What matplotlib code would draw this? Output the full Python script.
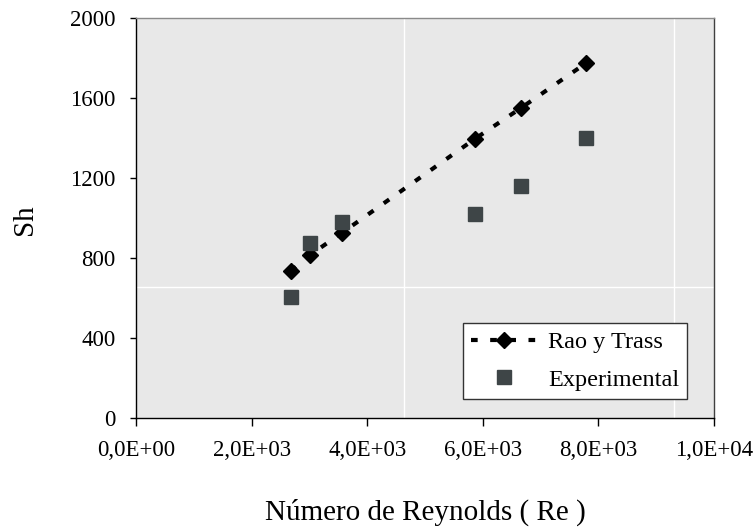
import matplotlib
matplotlib.use("Agg")
import matplotlib.pyplot as plt
from matplotlib.ticker import FixedLocator, FixedFormatter

# Data
reynolds = [2680, 3010, 3560, 5860, 6660, 7790]
sh_rao_trass = [735, 815, 925, 1395, 1550, 1775]
sh_experimental = [605, 875, 980, 1020, 1160, 1400]

x_ticks = [0, 2000, 4000, 6000, 8000, 10000]
x_tick_labels = ["0,0E+00", "2,0E+03", "4,0E+03", "6,0E+03", "8,0E+03", "1,0E+04"]
y_ticks = [0, 400, 800, 1200, 1600, 2000]
y_tick_labels = ["0", "400", "800", "1200", "1600", "2000"]

plt.rcParams['font.family'] = ['Liberation Serif', 'DejaVu Serif']
FS_TICK = 16.5
FS_LEG = 17.5
FS_LAB = 21

fig = plt.figure(figsize=(7.53, 5.31), dpi=100)
ax = fig.add_axes([136/753, 113/531, 578/753, 400/531])
ax.set_facecolor('#e8e8e8')

# faint texture-tile seams of the original background
for fx in [268/578, 538/578]:
    ax.plot([fx, fx], [0, 1], transform=ax.transAxes, color='white', lw=1.0, zorder=0.5)
ax.plot([0, 1], [131/400, 131/400], transform=ax.transAxes, color='white', lw=1.0, zorder=0.5)

ax.plot(reynolds, sh_rao_trass, color='black', lw=3.0, linestyle=(0, (1.6, 3.0)),
        marker='D', markersize=7.8, markerfacecolor='black', markeredgecolor='black',
        label='Rao y Trass', zorder=3)
ax.plot(reynolds, sh_experimental, linestyle='none', marker='s', markersize=9.5,
        markerfacecolor='#3e4547', markeredgecolor='#3e4547', label='Experimental', zorder=3)

ax.set_xlim(0, 10000)
ax.set_ylim(0, 2000)
ax.xaxis.set_major_locator(FixedLocator(x_ticks))
ax.xaxis.set_major_formatter(FixedFormatter(x_tick_labels))
ax.yaxis.set_major_locator(FixedLocator(y_ticks))
ax.yaxis.set_major_formatter(FixedFormatter(y_tick_labels))

ax.tick_params(axis='x', direction='out', length=5.5, width=1.0, pad=10, labelsize=FS_TICK, colors='black')
ax.tick_params(axis='y', direction='out', length=4.5, width=1.0, pad=10, labelsize=FS_TICK, colors='black')

for side in ['left', 'bottom']:
    ax.spines[side].set_color('black')
    ax.spines[side].set_linewidth(1.0)
ax.spines['top'].set_color('#8a8a8a')
ax.spines['top'].set_linewidth(1.0)
ax.spines['right'].set_color('#404040')
ax.spines['right'].set_linewidth(1.0)

ax.set_xlabel('Número de Reynolds ( Re )', fontsize=FS_LAB)
ax.set_ylabel('Sh', fontsize=FS_LAB)
ax.xaxis.set_label_coords(0.5, -94/400)
ax.xaxis.label.set_va('center')
ax.yaxis.set_label_coords(-111/578, 0.495)
ax.yaxis.label.set_va('center')

leg = ax.legend(loc='lower right', bbox_to_anchor=(551/578, 19/400), borderaxespad=0,
                fontsize=FS_LEG, frameon=True, fancybox=False, handlelength=2.7,
                handletextpad=0.45, labelspacing=0.65, borderpad=0.33)
leg.get_frame().set_edgecolor('#333333')
leg.get_frame().set_linewidth(1.0)
leg.get_frame().set_facecolor('white')
leg.get_frame().set_alpha(1.0)

fig.savefig('out.png', dpi=100)
